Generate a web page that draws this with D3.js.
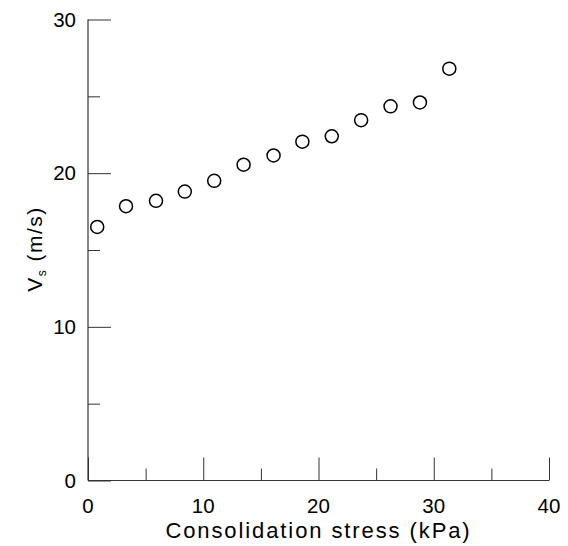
<!DOCTYPE html>
<html>
<head>
<meta charset="utf-8">
<script src="https://cdn.jsdelivr.net/npm/d3@7"></script>
<style>
  html, body { margin: 0; padding: 0; background: #fff; }
  svg { display: block; }
  text { font-family: "Liberation Sans", Arial, Helvetica, sans-serif; fill: #000; }
</style>
</head>
<body>
<svg id="chart" width="568" height="546"></svg>
<script>
// Data
const stress = [0.8, 3.3, 5.9, 8.4, 10.95, 13.5, 16.1, 18.6, 21.15, 23.7, 26.25, 28.8, 31.35];
const vs     = [16.5, 17.85, 18.2, 18.8, 19.5, 20.55, 21.15, 22.05, 22.4, 23.45, 24.35, 24.6, 26.8];
const xMajorTicks = [0, 10, 20, 30, 40];
const xMinorTicks = [5, 15, 25, 35];
const yMajorTicks = [0, 10, 20, 30];
const yMinorTicks = [5, 15, 25];

(function () {
const svg = d3.select("#chart");
const mLeft = 88, mRight = 549, mTop = 19.5, mBottom = 480.5;

const x = d3.scaleLinear().domain([0, 40]).range([mLeft, mRight]);
const y = d3.scaleLinear().domain([0, 30]).range([mBottom, mTop]);

const axisColor = "#333";

// X axis (ticks pointing inward / up)
const gx = svg.append("g").attr("transform", `translate(0,${mBottom})`);
gx.call(d3.axisTop(x).tickValues(xMajorTicks).tickSize(23).tickSizeOuter(0).tickFormat(""));
gx.select(".domain").remove();
const gxMinor = svg.append("g").attr("transform", `translate(0,${mBottom})`);
gxMinor.call(d3.axisTop(x).tickValues(xMinorTicks).tickSize(12).tickFormat(""));
gxMinor.select(".domain").remove();

// Y axis (ticks pointing inward / right)
const gy = svg.append("g").attr("transform", `translate(${mLeft},0)`);
gy.call(d3.axisRight(y).tickValues(yMajorTicks).tickSize(23).tickFormat(""));
gy.select(".domain").remove();
const gyMinor = svg.append("g").attr("transform", `translate(${mLeft},0)`);
gyMinor.call(d3.axisRight(y).tickValues(yMinorTicks).tickSize(12).tickFormat(""));
gyMinor.select(".domain").remove();

svg.selectAll(".tick line").attr("stroke", axisColor).attr("stroke-width", 1);

// Axis lines
svg.append("line").attr("x1", mLeft).attr("x2", mLeft).attr("y1", mTop).attr("y2", mBottom)
  .attr("stroke", axisColor).attr("stroke-width", 1.2);
svg.append("line").attr("x1", mLeft).attr("x2", mRight).attr("y1", mBottom).attr("y2", mBottom)
  .attr("stroke", axisColor).attr("stroke-width", 1.2);

// Tick labels
svg.append("g").selectAll("text").data(xMajorTicks).join("text")
  .attr("x", d => x(d)).attr("y", 513)
  .attr("text-anchor", "middle").attr("font-size", 20.5)
  .text(d => d);
svg.append("g").selectAll("text").data(yMajorTicks).join("text")
  .attr("x", 76).attr("y", d => y(d) + 7.3)
  .attr("text-anchor", "end").attr("font-size", 20.5)
  .text(d => d);

// Axis titles
svg.append("text")
  .attr("x", (mLeft + mRight) / 2).attr("y", 538)
  .attr("text-anchor", "middle").attr("font-size", 22).attr("letter-spacing", 1.9)
  .text("Consolidation stress (kPa)");

const yl = svg.append("text")
  .attr("transform", `translate(42,249) rotate(-90)`)
  .attr("text-anchor", "middle").attr("font-size", 21).attr("letter-spacing", 1.5);
yl.append("tspan").text("V");
yl.append("tspan").attr("font-size", 12).attr("dy", 4).text("s");
yl.append("tspan").attr("dy", -4).text(" (m/s)");

// Points
svg.append("g").selectAll("circle").data(stress.map((s, i) => [s, vs[i]])).join("circle")
  .attr("cx", d => x(d[0])).attr("cy", d => y(d[1])).attr("r", 6.5)
  .attr("fill", "none").attr("stroke", "#000").attr("stroke-width", 1.5);
})();
</script>
</body>
</html>
